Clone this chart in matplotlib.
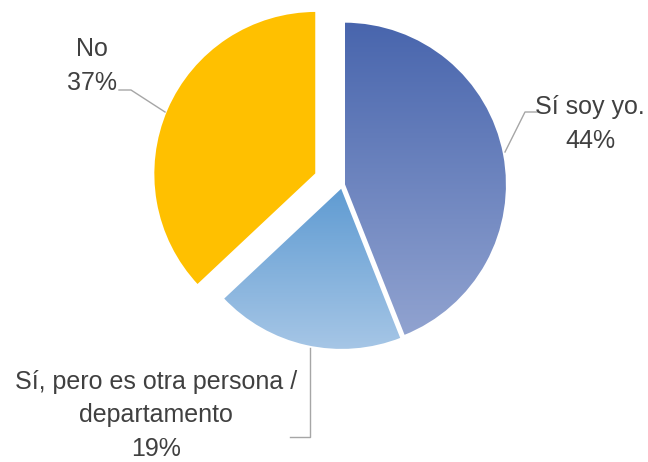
import matplotlib.pyplot as plt
import numpy as np
from matplotlib.colors import LinearSegmentedColormap

plt.rcParams['font.family'] = ['Liberation Sans', 'DejaVu Sans']

# datos
labels = ['Sí soy yo.', 'Sí, pero es otra persona /\ndepartamento', 'No']
values = [44, 19, 37]
pct_labels = ['44%', '19%', '37%']

W, H = 648, 462
center = (342, H - 185)
radius = 163
explode = [2, 2, 28]  # en pixeles (unidades de datos)

fig = plt.figure(figsize=(W / 100, H / 100), dpi=100)
ax = fig.add_axes([0, 0, 1, 1])

wedges, _ = ax.pie(values, startangle=90, counterclock=False, explode=explode,
                   center=center, radius=radius,
                   colors=['none', 'none', '#ffc000'],
                   wedgeprops=dict(edgecolor='white', linewidth=1.5))
ax.set_xlim(0, W)
ax.set_ylim(0, H)
ax.axis('off')

# degradados (arriba oscuro -> abajo claro)
grads = {0: ('#4865ad', '#91a3d0'), 1: ('#5f9bd2', '#a6c6e6')}
for i, (top, bot) in grads.items():
    w = wedges[i]
    th = np.radians(np.linspace(w.theta1, w.theta2, 100))
    xs = np.r_[w.center[0], w.center[0] + w.r * np.cos(th)]
    ys = np.r_[w.center[1], w.center[1] + w.r * np.sin(th)]
    cmap = LinearSegmentedColormap.from_list('g%d' % i, [bot, top])
    grad = np.linspace(0, 1, 256).reshape(-1, 1)
    im = ax.imshow(grad, cmap=cmap, origin='lower', aspect='auto',
                   extent=(xs.min(), xs.max(), ys.min(), ys.max()), zorder=0.5)
    im.set_clip_path(w)
    w.set_zorder(1)
ax.set_xlim(0, W)
ax.set_ylim(0, H)

txt = dict(color='#404040', fontsize=18, ha='center', va='center', linespacing=1.5)
line = dict(color='#a6a6a6', lw=1)

# Sí soy yo.
ax.text(590, H - 124, labels[0] + '\n' + pct_labels[0], **txt)
ax.plot([505, 525, 538], [H - 152, H - 112, H - 112], **line)

# Sí, pero es otra persona
ax.text(156, H - 415, labels[1] + '\n' + pct_labels[1], **txt)
ax.plot([310, 310, 290], [H - 348, H - 437, H - 437], **line)

# No
ax.text(92, H - 66, labels[2] + '\n' + pct_labels[2], **txt)
ax.plot([119, 131, 165], [H - 90, H - 90, H - 112], **line)

fig.savefig('out.png', dpi=100)
